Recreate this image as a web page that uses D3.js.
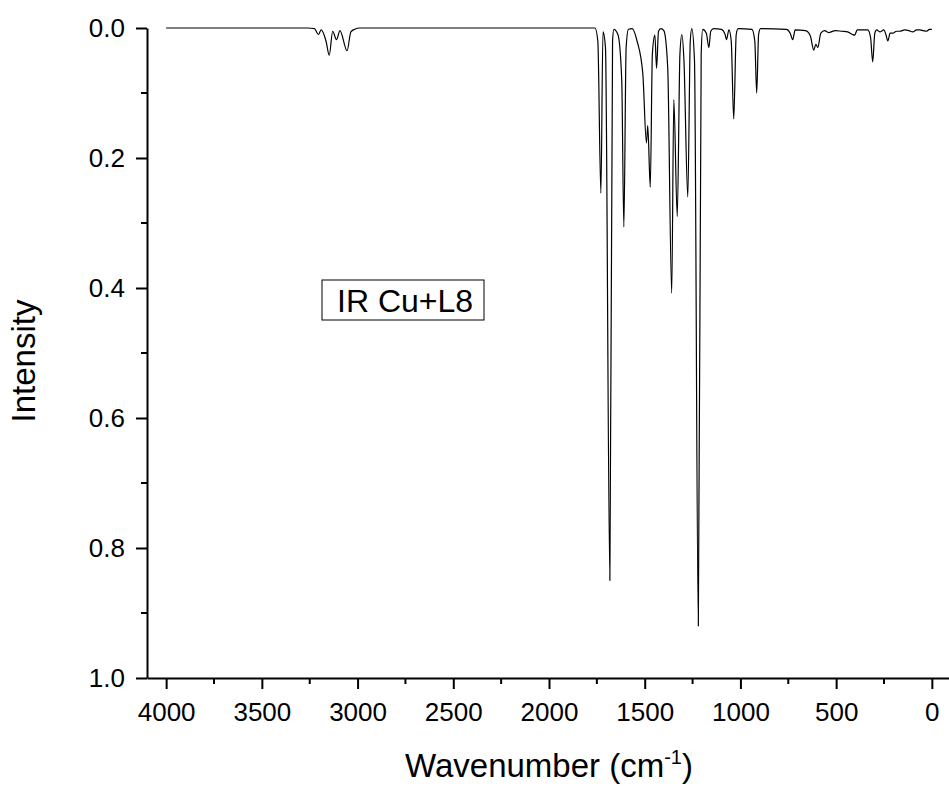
<!DOCTYPE html>
<meta charset="utf-8">
<style>
    body { margin: 0; background: #fff; }
    svg { font-family: "Liberation Sans", Arial, sans-serif; }
    .axis path, .axis line { fill: none; stroke: #000; stroke-width: 2; }
    .axis text { font-size: 26px; fill: #000; }
</style>
<svg class="chart"></svg>
<script src="https://cdnjs.cloudflare.com/ajax/libs/d3/7.8.5/d3.min.js"></script>
<script>

    // spectrum: wavenumber (cm-1) and intensity
    const wavenumbers = [
        4000, 3260, 3225, 3205, 3190, 3165, 3148, 3130, 3110, 3092, 3055, 3035, 3015, 2990,
        1770, 1760, 1745, 1729, 1718, 1705, 1682, 1668, 1661, 1640, 1620, 1609, 1597, 1585,
        1565, 1540, 1510, 1491, 1484, 1471, 1460, 1447, 1438, 1428, 1415, 1400, 1380, 1359,
        1348, 1330, 1316, 1306, 1295, 1275, 1262, 1254, 1240, 1220, 1205, 1197, 1178, 1165,
        1155, 1140, 1100, 1080, 1073, 1060, 1048, 1035, 1022, 1012, 940, 925, 915, 905, 895,
        760, 740, 727, 714, 660, 635, 617, 606, 596, 580, 560, 540, 505, 470, 440, 415, 403,
        390, 335, 320, 309, 298, 288, 272, 251, 240, 230, 218, 204, 185, 168, 142, 120, 100,
        80, 63, 45, 27, 12, 0
    ];
    const intensities = [
        0, 0, 0.001, 0.01, 0.003, 0.02, 0.042, 0.005, 0.018, 0.004, 0.035, 0.006, 0.002, 0,
        0, 0, 0.02, 0.254, 0.006, 0.03, 0.85, 0.02, 0.002, 0.01, 0.08, 0.306, 0.03, 0.002,
        0.001, 0.02, 0.07, 0.177, 0.15, 0.245, 0.04, 0.011, 0.062, 0.005, 0.001, 0.004, 0.06, 0.408,
        0.11, 0.29, 0.04, 0.01, 0.05, 0.26, 0.02, 0.001, 0.05, 0.92, 0.04, 0.002, 0.008, 0.03,
        0.005, 0.001, 0.002, 0.01, 0.018, 0.003, 0.02, 0.14, 0.01, 0.001, 0.002, 0.02, 0.1, 0.01, 0.001,
        0.002, 0.008, 0.018, 0.003, 0.004, 0.012, 0.034, 0.025, 0.03, 0.008, 0.004, 0.007, 0.004, 0.005, 0.006, 0.01, 0.011,
        0.003, 0.003, 0.015, 0.052, 0.008, 0.003, 0.006, 0.003, 0.01, 0.02, 0.008, 0.008, 0.005, 0.005, 0.003, 0.004, 0.006,
        0.003, 0.003, 0.004, 0.005, 0.002, 0.002
    ];
    const xTicks = [4000, 3500, 3000, 2500, 2000, 1500, 1000, 500, 0];
    const yTicks = [0.0, 0.2, 0.4, 0.6, 0.8, 1.0];
    const labelText = "IR Cu+L8";

    const W = 949, H = 786;
    const plotL = 147, plotR = 951, plotT = 28, plotB = 678;

    const x = d3.scaleLinear().domain([4100, -100]).range([plotL, plotR]);
    const y = d3.scaleLinear().domain([0, 1]).range([plotT, plotB]);

    const svg = d3.select(".chart").attr("width", W).attr("height", H);

    // minor ticks
    const xMinor = d3.range(3750, -1, -500);
    const yMinor = d3.range(0.1, 1, 0.2);

    svg.append("g").selectAll("line").data(xMinor).join("line")
        .attr("x1", d => x(d)).attr("x2", d => x(d))
        .attr("y1", plotB).attr("y2", plotB + 6)
        .attr("stroke", "#000").attr("stroke-width", 2);
    svg.append("g").selectAll("line").data(yMinor).join("line")
        .attr("y1", d => y(d)).attr("y2", d => y(d))
        .attr("x1", plotL).attr("x2", plotL - 6)
        .attr("stroke", "#000").attr("stroke-width", 2);

    const xAxis = svg.append("g")
        .attr("class", "axis")
        .attr("transform", `translate(0,${plotB})`)
        .call(d3.axisBottom(x).tickValues(xTicks).tickSize(11).tickSizeOuter(0).tickFormat(d3.format("d")));
    xAxis.selectAll("text").attr("y", 25).attr("dy", "0.71em");

    const yAxis = svg.append("g")
        .attr("class", "axis")
        .attr("transform", `translate(${plotL},0)`)
        .call(d3.axisLeft(y).tickValues(yTicks).tickSize(11).tickSizeOuter(0).tickFormat(d3.format(".1f")));
    yAxis.selectAll("text").attr("x", -22);

    // spectrum
    const pts = wavenumbers.map((w, i) => [w, intensities[i]]);
    const line = d3.line()
        .x(d => x(d[0]))
        .y(d => y(d[1]))
        .curve(d3.curveMonotoneX);

    svg.append("path")
        .datum(pts)
        .attr("d", line)
        .attr("fill", "none")
        .attr("stroke", "#000")
        .attr("stroke-width", 1.2);

    // axis titles
    svg.append("text")
        .attr("transform", `translate(35,361) rotate(-90)`)
        .attr("text-anchor", "middle")
        .attr("font-size", 33)
        .text("Intensity");

    const xt = svg.append("text")
        .attr("x", 549).attr("y", 777)
        .attr("text-anchor", "middle")
        .attr("font-size", 33);
    xt.append("tspan").text("Wavenumber (cm");
    xt.append("tspan").attr("font-size", 20).attr("dy", -13).text("-1");
    xt.append("tspan").attr("dy", 13).text(")");

    // label box
    svg.append("rect")
        .attr("x", 322).attr("y", 280).attr("width", 162).attr("height", 40)
        .attr("fill", "none").attr("stroke", "#000").attr("stroke-width", 1);
    svg.append("text")
        .attr("x", 337).attr("y", 312)
        .attr("font-size", 32)
        .text(labelText);

</script>
